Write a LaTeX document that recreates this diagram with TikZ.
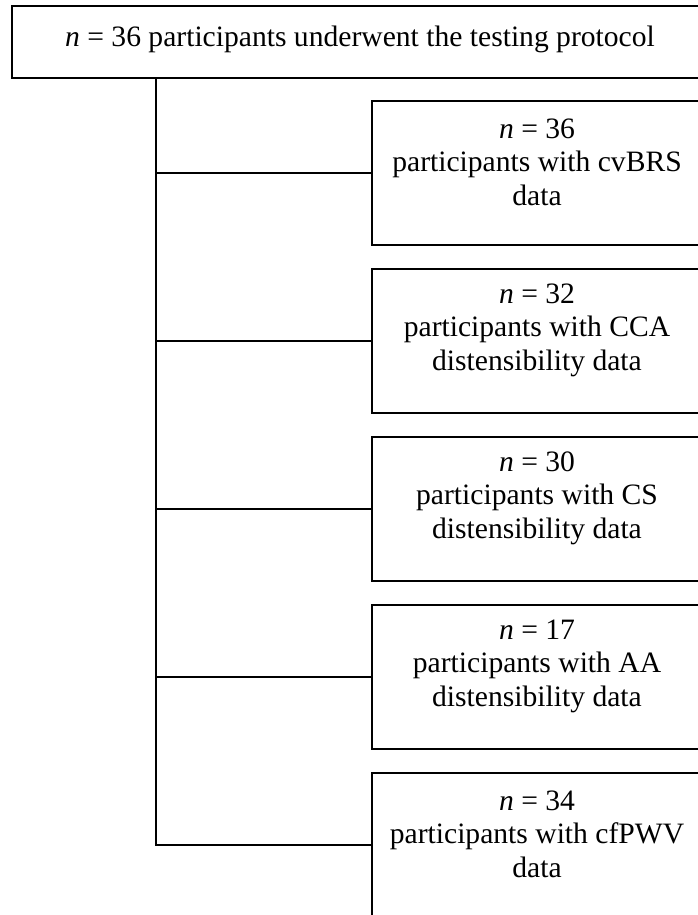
\documentclass[tikz,border=0pt]{standalone}
\usepackage{fontspec}
\setmainfont{Liberation Serif}
\begin{document}
\begin{tikzpicture}[x=1pt,y=-1pt,
  line width=2.6pt,
  boxs/.style={draw, line width=2.6pt, rectangle, minimum width=332pt, minimum height=144pt, inner sep=0pt},
  topbox/.style={draw, line width=2.6pt, rectangle, minimum width=696pt, minimum height=72pt, inner sep=0pt},
  lbl/.style={align=center, font=\fontsize{29.6}{33.5}\selectfont, inner sep=0pt}]
\clip (0,0) rectangle (698,915);
\useasboundingbox (0,0) rectangle (698,915);
\node[topbox] (top) at (360,42) {};
\node[lbl, anchor=base] (toplbl) at (360,47) {\textit{n} = 36 participants underwent the testing protocol};
\coordinate (trunk) at (156,78);
\node[boxs] (b1) at (538,173) {};
\node[boxs] (b2) at (538,341) {};
\node[boxs] (b3) at (538,509) {};
\node[boxs] (b4) at (538,677) {};
\node[boxs] (b5) at (538,845) {};
\node[lbl] (l1) at (537,162) {\textit{n} = 36\\participants with cvBRS\\data};
\node[lbl] (l2) at (537,330) {\textit{n} = 32\\participants with CCA\\distensibility data};
\node[lbl] (l3) at (537,498) {\textit{n} = 30\\participants with CS\\distensibility data};
\node[lbl] (l4) at (537,666) {\textit{n} = 17\\participants with AA\\distensibility data};
\node[lbl] (l5) at (537,834) {\textit{n} = 34\\participants with cfPWV\\data};
\draw (trunk) |- (b5.west);
\foreach \b in {b1,b2,b3,b4} \draw (trunk |- \b.west) -- (\b.west);
\end{tikzpicture}
\end{document}
